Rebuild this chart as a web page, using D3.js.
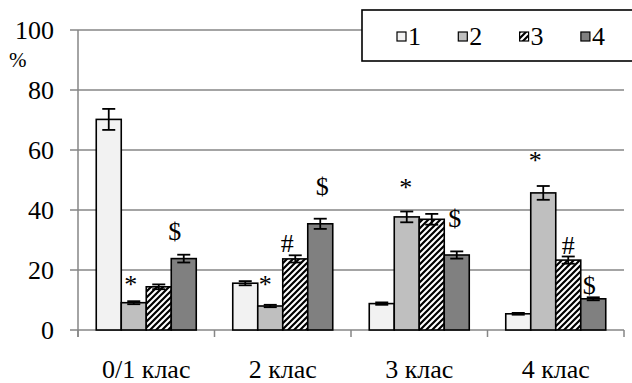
<html><head><meta charset="utf-8"><script src="https://cdn.jsdelivr.net/npm/d3@7"></script></head>
<body style="margin:0">
<svg id="chart" width="632" height="383"></svg>
<script>
// Categories (school grade) and series names
const categories = ["0/1 клас", "2 клас", "3 клас", "4 клас"];
const seriesNames = ["1", "2", "3", "4"];

// Percentages per series, one value per grade
const series1 = [70.2, 15.6, 8.8, 5.4];
const series2 = [9.1, 8.0, 37.7, 45.7];
const series3 = [14.4, 23.7, 36.9, 23.3];
const series4 = [23.8, 35.4, 25.0, 10.4];

// Error-bar half-widths per series
const error1 = [3.5, 0.7, 0.4, 0.3];
const error2 = [0.5, 0.4, 1.8, 2.3];
const error3 = [0.8, 1.2, 1.8, 1.2];
const error4 = [1.3, 1.7, 1.2, 0.5];

// Y-axis tick labels
const yTicks = [0, 20, 40, 60, 80, 100];

// Significance markers: grade index, series index, symbol
const markCategory = [0, 0, 1, 1, 1, 2, 2, 3, 3, 3];
const markSeries   = [1, 3, 1, 2, 3, 1, 3, 1, 2, 3];
const markSymbol   = ["*", "$", "*", "#", "$", "*", "$", "*", "#", "$"];

// Placement nudges for the markers (px, relative to bar centre / error-bar top)
const markNudge = [[-3, -8], [-9, -15], [-5, -12], [-8, -3], [2, -24],
                   [-1, -16], [-2, -24], [-8, -17], [0, -3], [-4, -3]];

const values = [series1, series2, series3, series4];
const errors = [error1, error2, error3, error4];

const FONT = 26;
const svg = d3.select("#chart");

const plotLeft = 78, plotRight = 624, plotTop = 30, plotBottom = 330;

const y = d3.scaleLinear().domain([0, 100]).range([plotBottom, plotTop]);
const x0 = d3.scaleBand().domain(categories).range([plotLeft, plotRight]).padding(0);
const x1 = d3.scaleBand().domain(seriesNames).range([0, x0.bandwidth()])
  .paddingInner(0).paddingOuter(0.73);

// Hatch pattern for series 3
const defs = svg.append("defs");
const pat = defs.append("pattern")
  .attr("id", "hatch")
  .attr("patternUnits", "userSpaceOnUse")
  .attr("width", 6).attr("height", 6);
pat.append("rect").attr("width", 6).attr("height", 6).attr("fill", "#fff");
pat.append("path")
  .attr("d", "M-1,1 l2,-2 M0,6 l6,-6 M5,7 l2,-2")
  .attr("stroke", "#000").attr("stroke-width", 2.2);

const fills = ["#f2f2f2", "#bfbfbf", "url(#hatch)", "#808080"];

// Gridlines
svg.append("g").selectAll("line").data(yTicks).join("line")
  .attr("x1", 70).attr("x2", plotRight)
  .attr("y1", d => y(d)).attr("y2", d => y(d))
  .attr("stroke", "#868686").attr("stroke-width", 1.5);

// Left axis line
svg.append("line")
  .attr("x1", plotLeft).attr("x2", plotLeft)
  .attr("y1", plotTop).attr("y2", plotBottom + 7)
  .attr("stroke", "#868686").attr("stroke-width", 1.5);

// Category boundary ticks below the baseline
const boundaries = categories.map(c => x0(c)).concat([plotRight]);
svg.append("g").selectAll("line").data(boundaries).join("line")
  .attr("x1", d => d).attr("x2", d => d)
  .attr("y1", plotBottom).attr("y2", plotBottom + 7)
  .attr("stroke", "#868686").attr("stroke-width", 1.5);

// Bars
const barData = [];
categories.forEach((c, i) => {
  seriesNames.forEach((s, j) => {
    barData.push({ c, s, i, j, v: values[j][i], e: errors[j][i] });
  });
});

svg.append("g").selectAll("rect").data(barData).join("rect")
  .attr("x", d => x0(d.c) + x1(d.s))
  .attr("y", d => y(d.v))
  .attr("width", x1.bandwidth())
  .attr("height", d => y(0) - y(d.v))
  .attr("fill", d => fills[d.j])
  .attr("stroke", "#000")
  .attr("stroke-width", 1.6);

// Error bars
const cap = 6.5;
const eg = svg.append("g").attr("stroke", "#000").attr("stroke-width", 1.8);
barData.forEach(d => {
  const cx = x0(d.c) + x1(d.s) + x1.bandwidth() / 2;
  const yt = y(d.v + d.e), yb = y(d.v - d.e);
  eg.append("line").attr("x1", cx).attr("x2", cx).attr("y1", yt).attr("y2", yb);
  eg.append("line").attr("x1", cx - cap).attr("x2", cx + cap).attr("y1", yt).attr("y2", yt);
  eg.append("line").attr("x1", cx - cap).attr("x2", cx + cap).attr("y1", yb).attr("y2", yb);
});

// All text items gathered, then drawn in one pass
const texts = [];
yTicks.forEach(t => texts.push({ x: 54, y: y(t) + 9, a: "end", s: FONT, t: String(t) }));
categories.forEach(c => texts.push({ x: x0(c) + x0.bandwidth() / 2, y: 378, a: "middle", s: FONT, t: c }));
texts.push({ x: 9, y: 67, a: "start", s: 21, t: "%" });
markSymbol.forEach((sym, k) => {
  const i = markCategory[k], j = markSeries[k];
  const cx = x0(categories[i]) + x1(seriesNames[j]) + x1.bandwidth() / 2;
  const yt = y(values[j][i] + errors[j][i]);
  texts.push({ x: cx + markNudge[k][0], y: yt + markNudge[k][1], a: "middle", s: FONT, t: sym });
});

// Legend box and swatches
svg.append("rect")
  .attr("x", 362).attr("y", 10).attr("width", 275).attr("height", 51)
  .attr("fill", "#fff").attr("stroke", "#000").attr("stroke-width", 1.6);
seriesNames.forEach((s, j) => {
  const lx = 397 + j * 61.3;
  svg.append("rect")
    .attr("x", lx).attr("y", 32).attr("width", 9).attr("height", 9)
    .attr("fill", fills[j]).attr("stroke", "#000").attr("stroke-width", 1.2);
  texts.push({ x: lx + 11, y: 45, a: "start", s: FONT, t: s });
});

svg.selectAll("text").data(texts).join("text")
  .attr("x", d => d.x)
  .attr("y", d => d.y)
  .attr("text-anchor", d => d.a)
  .attr("font-size", d => d.s)
  .attr("font-family", "Times New Roman")
  .text(d => d.t);
</script>
</body>
</html>
